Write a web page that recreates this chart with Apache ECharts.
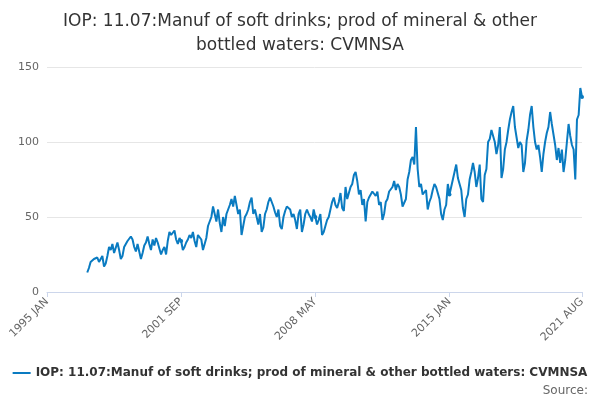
<!DOCTYPE html>
<html><head><meta charset="utf-8">
<script src="https://cdn.jsdelivr.net/npm/echarts@6/dist/echarts.min.js"></script>
<style>html,body{margin:0;padding:0;background:#fff}#c{width:600px;height:400px}</style>
</head><body><div id="c"></div>
<script>
const titleText = "IOP: 11.07:Manuf of soft drinks; prod of mineral & other\nbottled waters: CVMNSA";
const seriesName = "IOP: 11.07:Manuf of soft drinks; prod of mineral & other bottled waters: CVMNSA";
const monthNames = ["JAN","FEB","MAR","APR","MAY","JUN","JUL","AUG","SEP","OCT","NOV","DEC"];
const startYear = 1995, endYear = 2021, endMonth = 8;
const dataStartYear = 1997;
const values = [
13,16,20,21,22,21,23,20,19,24,17,19,
24,30,28,32,26,27,33,28,22,24,30,32,
34,33,37,35,30,27,32,33,22,26,31,33,
37,32,28,35,31,36,33,34,25,28,30,25,
34,40,38,39,41,35,32,36,34,28,30,33,
35,38,36,40,34,30,38,39,35,28,32,36,
44,45,50,57,52,47,55,46,40,50,44,52,
55,58,62,57,64,58,52,55,38,44,50,52,
55,60,63,52,55,50,45,52,40,43,52,55,
60,63,60,57,53,50,55,44,42,50,54,57,
56,55,50,52,48,42,52,55,40,45,52,55,
52,50,47,55,50,45,48,52,38,40,44,48,
50,55,60,63,58,56,60,66,56,54,70,62,
66,70,72,78,80,74,65,68,58,62,47,60,
63,65,67,66,64,67,58,60,48,52,60,62,
67,68,70,74,68,72,70,65,57,58,62,75,
80,88,90,85,110,82,70,72,65,64,68,55,
60,63,68,72,70,66,62,52,48,55,58,72,
65,70,75,80,85,76,72,68,56,50,62,65,
75,80,86,80,70,76,85,62,60,78,82,100,
102,108,104,100,92,98,110,76,82,95,100,108,
115,120,124,110,103,96,100,98,80,86,101,108,
118,124,110,100,95,98,90,80,92,100,106,110,
120,112,105,98,88,96,86,95,80,88,100,112,
104,98,95,75,115,118,136,130
];
const categories = [];
for (let y = startYear; y <= endYear; y++) for (let m = 0; m < 12; m++) {
  if (y === endYear && m >= endMonth) break;
  categories.push(y + " " + monthNames[m]);
}
const lead = (dataStartYear - startYear) * 12;
const data = categories.map((c, i) => i < lead ? null : values[i - lead]);
const last = categories.length - 1;
const chart = echarts.init(document.getElementById('c'));
chart.setOption({
  animation: false,
  title: { text: titleText, left: 'center', top: 5, textStyle: { fontFamily: 'DejaVu Sans', fontSize: 17, fontWeight: 'normal', color: '#333', lineHeight: 24 } },
  grid: { left: 47, right: 18, top: 67, bottom: 108 },
  xAxis: { type: 'category', data: categories, boundaryGap: false,
    axisLine: { lineStyle: { color: '#ccd6eb' } }, axisTick: { show: true, alignWithLabel: true, interval: (i) => i % 80 === 0 || i === last, lineStyle: { color: '#ccd6eb' } },
    axisLabel: { interval: (i) => i % 80 === 0 || i === last, rotate: 45, color: '#666', fontFamily: 'DejaVu Sans', fontSize: 11, showMaxLabel: true } },
  yAxis: { type: 'value', min: 0, max: 150, interval: 50,
    axisLabel: { color: '#666', fontFamily: 'DejaVu Sans', fontSize: 11 },
    splitLine: { lineStyle: { color: '#e6e6e6' } } },
  legend: { bottom: 16, left: 'center', itemWidth: 18, itemHeight: 8, icon: 'path://M0,4L18,4L18,6L0,6Z',
    textStyle: { fontFamily: 'DejaVu Sans', fontSize: 12, fontWeight: 'bold', color: '#333' } },
  graphic: [{ type: 'text', right: 12, bottom: 3, style: { text: 'Source:', fill: '#666', font: '12px DejaVu Sans' } }],
  series: [{ name: seriesName, type: 'line', data: data, color: '#0a7bc1',
    symbol: 'circle', symbolSize: 4, lineStyle: { width: 2 }, connectNulls: false }]
});
</script></body></html>
